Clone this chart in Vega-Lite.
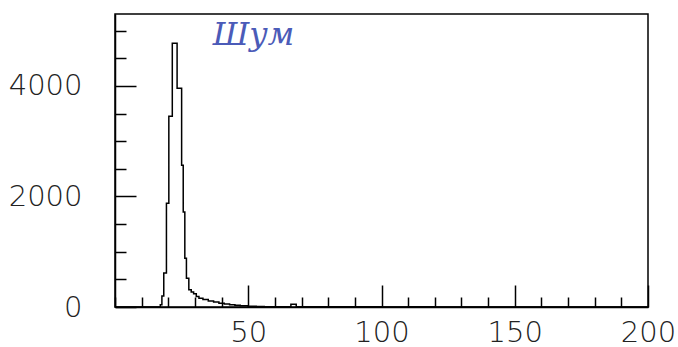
{
  "$schema": "https://vega.github.io/schema/vega-lite/v6.json",
  "width": 533,
  "height": 293,
  "autosize": {"type": "none"},
  "padding": {"left": 115, "top": 14, "right": 30, "bottom": 40},
  "background": "white",
  "config": {
    "view": {"stroke": "black", "strokeWidth": 1.5},
    "font": "DejaVu Sans"
  },
  "resolve": {"axis": {"x": "independent", "y": "independent"}},
  "datasets": {
    "hist": [
      {"x": 0, "count": 0},
      {"x": 17.0, "count": 40},
      {"x": 17.6, "count": 200},
      {"x": 18.3, "count": 615},
      {"x": 19.3, "count": 1875},
      {"x": 20.2, "count": 3450},
      {"x": 21.5, "count": 4770},
      {"x": 23.3, "count": 3955},
      {"x": 25.0, "count": 2565},
      {"x": 25.6, "count": 1720},
      {"x": 26.2, "count": 880},
      {"x": 26.8, "count": 520},
      {"x": 27.7, "count": 310},
      {"x": 28.6, "count": 270},
      {"x": 29.5, "count": 240},
      {"x": 30.5, "count": 190},
      {"x": 31.5, "count": 160},
      {"x": 33, "count": 135},
      {"x": 35, "count": 110},
      {"x": 37, "count": 90},
      {"x": 39, "count": 70},
      {"x": 41, "count": 55},
      {"x": 43, "count": 40},
      {"x": 45, "count": 30},
      {"x": 47, "count": 22},
      {"x": 50, "count": 15},
      {"x": 53, "count": 10},
      {"x": 56, "count": 6},
      {"x": 60, "count": 4},
      {"x": 66, "count": 50},
      {"x": 68, "count": 4},
      {"x": 72, "count": 3},
      {"x": 80, "count": 4},
      {"x": 90, "count": 3},
      {"x": 100, "count": 2},
      {"x": 110, "count": 3},
      {"x": 120, "count": 2},
      {"x": 140, "count": 2},
      {"x": 160, "count": 1},
      {"x": 180, "count": 1},
      {"x": 200, "count": 0}
    ],
    "note": [{"x": 52, "count": 4920, "label": "Шум"}]
  },
  "layer": [
    {
      "data": {"name": "hist"},
      "mark": {"type": "line", "interpolate": "step-after", "color": "black", "strokeWidth": 1.5, "clip": true},
      "encoding": {
        "x": {
          "field": "x", "type": "quantitative",
          "scale": {"domain": [0, 200], "nice": false, "zero": false},
          "axis": {
            "orient": "bottom",
            "title": null,
            "grid": false,
            "values": [50, 100, 150, 200],
            "tickSize": -22,
            "tickColor": "black",
            "tickWidth": 1.5,
            "domainColor": "black",
            "domainWidth": 1.5,
            "labelFont": "DejaVu Sans",
            "labelFontSize": 29,
            "labelFontWeight": 200,
            "labelColor": "#222",
            "labelPadding": 33,
            "labelOverlap": false,
            "labelFlush": false
          }
        },
        "y": {
          "field": "count", "type": "quantitative",
          "scale": {"domain": [0, 5300], "nice": false},
          "axis": {
            "orient": "left",
            "title": null,
            "grid": false,
            "values": [0, 2000, 4000],
            "tickSize": -21,
            "tickColor": "black",
            "tickWidth": 1.5,
            "domainColor": "black",
            "domainWidth": 1.5,
            "labelFont": "DejaVu Sans",
            "labelFontSize": 29,
            "labelFontWeight": 200,
            "labelColor": "#222",
            "labelPadding": 54,
            "labelOverlap": false,
            "labelFlush": false,
            "format": "d"
          }
        }
      }
    },
    {
      "data": {"name": "hist"},
      "mark": {"type": "line", "opacity": 0},
      "encoding": {
        "x": {
          "field": "x", "type": "quantitative",
          "axis": {
            "orient": "bottom",
            "title": null,
            "grid": false,
            "domain": false,
            "labels": false,
            "values": [0,10,20,30,40,60,70,80,90,110,120,130,140,160,170,180,190],
            "tickSize": -10,
            "tickColor": "black",
            "tickWidth": 1.5
          }
        },
        "y": {
          "field": "count", "type": "quantitative",
          "axis": {
            "orient": "left",
            "title": null,
            "grid": false,
            "domain": false,
            "labels": false,
            "values": [500,1000,1500,2500,3000,3500,4500,5000],
            "tickSize": -11,
            "tickColor": "black",
            "tickWidth": 1.5
          }
        }
      }
    },
    {
      "data": {"name": "note"},
      "mark": {"type": "text", "font": "DejaVu Serif", "fontStyle": "italic", "fontSize": 32, "fontWeight": 200, "color": "#4b5bb8", "align": "center", "baseline": "middle"},
      "encoding": {
        "x": {"field": "x", "type": "quantitative", "axis": null},
        "y": {"field": "count", "type": "quantitative", "axis": null},
        "text": {"field": "label"}
      }
    }
  ]
}
